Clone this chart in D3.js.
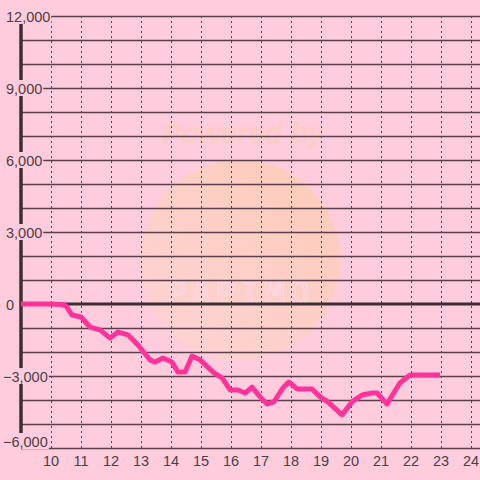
<!DOCTYPE html>
<html><head><meta charset="utf-8">
<script src="https://cdn.jsdelivr.net/npm/d3@7"></script>
<style>html,body{margin:0;padding:0;background:#ffccdd;}svg{display:block;}</style>
</head><body>
<svg id="c" width="480" height="480"></svg>
<script>
// Data
const times = [9, 10, 10.33, 10.5, 10.7, 11, 11.3, 11.63, 11.97, 12.23, 12.57, 12.9, 13.3, 13.47, 13.73, 14.03, 14.23, 14.47, 14.7, 14.97, 15.43, 15.7, 15.97, 16.23, 16.47, 16.7, 16.97, 17.2, 17.43, 17.73, 17.93, 18.2, 18.7, 18.97, 19.23, 19.7, 20.03, 20.37, 20.7, 20.87, 21.2, 21.63, 21.97, 22.97];
const values = [0, 0, -20, -80, -460, -540, -960, -1080, -1420, -1170, -1290, -1710, -2330, -2420, -2250, -2420, -2830, -2830, -2170, -2330, -2870, -3080, -3580, -3580, -3710, -3460, -3870, -4170, -4080, -3500, -3250, -3540, -3540, -3870, -4080, -4620, -4080, -3790, -3710, -3710, -4170, -3290, -2960, -2960];
const xTicks = [10, 11, 12, 13, 14, 15, 16, 17, 18, 19, 20, 21, 22, 23, 24];
const yTicks = [12000, 9000, 6000, 3000, 0, -3000, -6000];
const yGrid = d3.range(-6000, 12001, 1000);

const svg = d3.select('#c');
const bg = '#ffccdd';
const x = d3.scaleLinear().domain([9, 24]).range([21, 471]);
const y = d3.scaleLinear().domain([-6000, 12000]).range([448, 16]);
const font = 'Liberation Sans, Arial, sans-serif';

// watermark
const defs = svg.append('defs');
const g1 = defs.append('linearGradient').attr('id', 'wm').attr('x1', '0').attr('y1', '1').attr('x2', '1').attr('y2', '0');
g1.append('stop').attr('offset', '0').attr('stop-color', '#ffd3d6');
g1.append('stop').attr('offset', '1').attr('stop-color', '#fccbb8');
svg.append('circle').attr('cx', 240).attr('cy', 260).attr('r', 100).attr('fill', 'url(#wm)');
svg.append('text').attr('x', 243).attr('y', 143).attr('text-anchor', 'middle')
  .attr('font-family', font).attr('font-weight', 'bold').attr('font-style', 'italic')
  .attr('font-size', 29).attr('fill', '#fbcdc4').text('Powered by');
svg.append('text').attr('x', 240).attr('y', 305).attr('text-anchor', 'middle')
  .attr('font-family', 'DejaVu Sans Mono, monospace').attr('font-size', 34).attr('letter-spacing', 4)
  .attr('fill', 'none').attr('stroke', '#ffd6e3').attr('stroke-width', 1.5).text('PAPIMO');

// horizontal grid
svg.append('g').selectAll('line').data(yGrid.filter(d => d !== 0)).join('line')
  .attr('x1', 21).attr('x2', 480).attr('y1', d => y(d) + 0.5).attr('y2', d => y(d) + 0.5)
  .attr('stroke', '#5a3f4d').attr('stroke-width', 1.5);
// vertical dashed grid
svg.append('g').selectAll('line').data(xTicks).join('line')
  .attr('x1', d => x(d) + 0.5).attr('x2', d => x(d) + 0.5).attr('y1', 16).attr('y2', 448)
  .attr('stroke', '#5a3f4d').attr('stroke-width', 1).attr('stroke-dasharray', '2,3');
// zero line
svg.append('line').attr('x1', 21).attr('x2', 480).attr('y1', y(0)).attr('y2', y(0))
  .attr('stroke', '#3a2f33').attr('stroke-width', 3);
// left axis
svg.append('line').attr('x1', 21).attr('x2', 21).attr('y1', 16).attr('y2', 448)
  .attr('stroke', '#3a2f33').attr('stroke-width', 3.5);

// y labels with background
const yl = svg.append('g').selectAll('g').data(yTicks).join('g');
yl.each(function (d) {
  const gg = d3.select(this);
  const r = gg.append('rect').attr('fill', bg);
  const cy = Math.min(y(d), 441);
  const t = gg.append('text').attr('font-family', font).attr('font-size', 14.5)
    .attr('fill', '#4a4045').attr('dominant-baseline', 'central')
    .text(d3.format(',')(d));
  const w = t.node().getComputedTextLength();
  const left = d < 0 ? 3 : 6;
  t.attr('x', left).attr('y', cy + 0.5);
  r.attr('x', left - 1).attr('y', cy - 8).attr('width', w + 2).attr('height', 16);
});

// x labels
svg.append('g').selectAll('text').data(xTicks).join('text')
  .attr('x', d => x(d)).attr('y', 466).attr('text-anchor', 'middle')
  .attr('font-family', font).attr('font-size', 14.5)
  .attr('fill', '#4a4045').text(d => d);

// data line
const pts = times.map((t, i) => [t, values[i]]);
svg.append('path').datum(pts)
  .attr('d', d3.line().x(d => x(d[0])).y(d => y(d[1])))
  .attr('fill', 'none').attr('stroke', '#ff3399').attr('stroke-width', 5)
  .attr('stroke-linejoin', 'round').attr('stroke-linecap', 'butt');
</script>
</body></html>
